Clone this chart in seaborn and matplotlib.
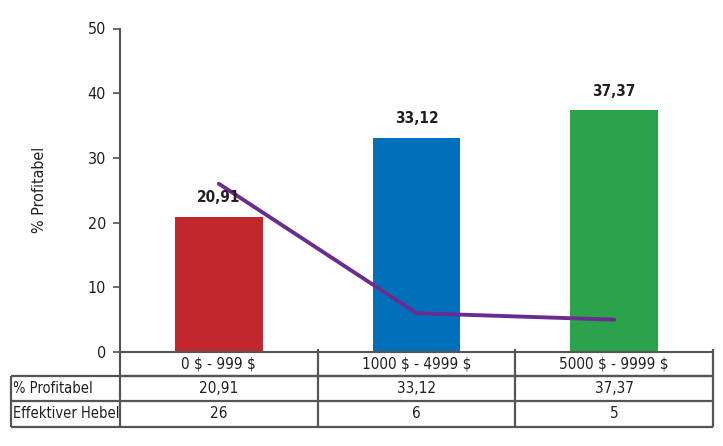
import matplotlib
matplotlib.use("Agg")
import matplotlib.pyplot as plt
import seaborn as sns
import numpy as np
import pandas as pd

categories = ["0 $ - 999 $", "1000 $ - 4999 $", "5000 $ - 9999 $"]
profit = [20.91, 33.12, 37.37]
leverage = [26, 6, 5]
profit_labels = ["20,91", "33,12", "37,37"]
leverage_labels = ["26", "6", "5"]
row_names = ["% Profitabel", "Effektiver Hebel"]
bar_colors = ["#C1272D", "#0070BA", "#2CA34A"]
line_color = "#6B2C91"
y_ticks = [0, 10, 20, 30, 40, 50]

sns.set_style("white")
plt.rcParams["font.family"] = ["DejaVu Sans"]
plt.rcParams["font.stretch"] = "condensed"

FS = 11
fig = plt.figure(figsize=(7.23, 4.46), dpi=100)
ax = fig.add_axes([120 / 723, 1 - 352 / 446, 593 / 723, (352 - 28.5) / 446])

df = pd.DataFrame({"cat": categories, "profit": profit})
sns.barplot(data=df, x="cat", y="profit", hue="cat", palette=bar_colors,
            width=0.445, legend=False, ax=ax, saturation=1, linewidth=0)
sns.lineplot(x=np.arange(len(categories)), y=leverage, color=line_color,
             linewidth=2.8, ax=ax)

ax.set_xlim(-0.5, len(categories) - 0.5)
ax.set_ylim(0, 50)
ax.set_yticks(y_ticks)
ax.set_yticklabels([str(t) for t in y_ticks], fontsize=11.5, color="#231F20", stretch="condensed")
ax.set_xticks([])
ax.set_xlabel("")
ax.set_ylabel("% Profitabel", fontsize=11.5, color="#231F20", labelpad=29, stretch="condensed")
ax.tick_params(axis="y", direction="out", length=5, width=1.2, color="#555555", pad=5, left=True)

for s in ["top", "right"]:
    ax.spines[s].set_visible(False)
for s in ["left", "bottom"]:
    ax.spines[s].set_color("#555555")
    ax.spines[s].set_linewidth(1.5)

for i, (v, lab) in enumerate(zip(profit, profit_labels)):
    ax.text(i, v + 1.8, lab, ha="center", va="bottom", fontsize=11,
            fontweight="bold", color="#231F20", stretch="condensed")

# table below the axes
trans = matplotlib.transforms.blended_transform_factory(ax.transData, ax.transAxes)
ax_h = (352 - 28.5)
r1 = -24 / ax_h
r2 = -49 / ax_h
r3 = -75 / ax_h
x_left = -0.5 - 109 / (593 / 3)
x0, x1 = -0.5, len(categories) - 0.5
lc = "#555555"
lw = 1.6
kw = dict(transform=trans, color=lc, lw=lw, clip_on=False, solid_capstyle="butt")
ax.plot([x0, x1], [r1, r1], **kw)
ax.plot([x_left, x1], [r1, r1], **kw)
ax.plot([x_left, x1], [r2, r2], **kw)
ax.plot([x_left, x1], [r3, r3], **kw)
ax.plot([x_left, x_left], [r1, r3], **kw)
ax.plot([x0, x0], [0, r3], **kw)
for k in range(1, len(categories) + 1):
    ax.plot([k - 0.5, k - 0.5], [0.008, r3], **kw)

tkw = dict(transform=trans, fontsize=FS, color="#231F20", va="center", clip_on=False,
           parse_math=False, stretch="condensed")
for i, c in enumerate(categories):
    ax.text(i, r1 / 2, c, ha="center", **tkw)
    ax.text(i, (r1 + r2) / 2, profit_labels[i], ha="center", **tkw)
    ax.text(i, (r2 + r3) / 2, leverage_labels[i], ha="center", **tkw)
ax.text(x_left + 0.01, (r1 + r2) / 2, row_names[0], ha="left", **dict(tkw, fontsize=10.5))
ax.text(x_left + 0.01, (r2 + r3) / 2, row_names[1], ha="left", **dict(tkw, fontsize=10.5))

fig.savefig("out.png", dpi=100)
